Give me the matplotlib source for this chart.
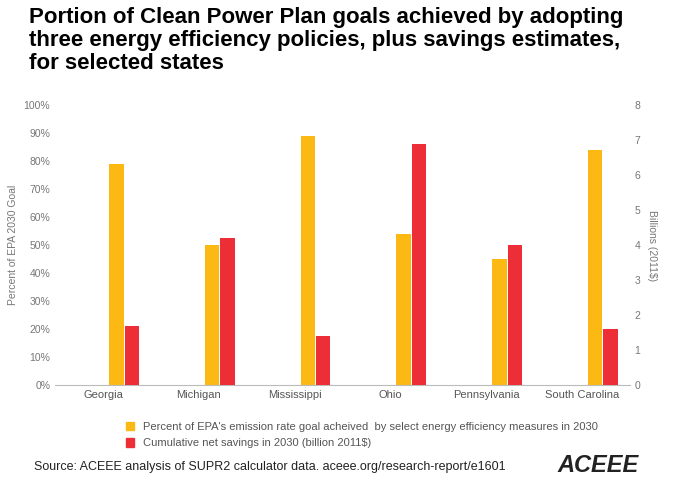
import matplotlib.pyplot as plt
import numpy as np
from matplotlib.patches import Patch

plt.rcParams['font.family'] = ['Liberation Sans', 'DejaVu Sans']

states = ["Georgia", "Michigan", "Mississippi", "Ohio", "Pennsylvania", "South Carolina"]
goal_pct = [79, 50, 89, 54, 45, 84]
savings_bn = [1.68, 4.2, 1.4, 6.9, 4.0, 1.62]

orange = "#FDB913"
red = "#EE2E36"
gray = "#777777"

fig = plt.figure(figsize=(6.8, 4.87), dpi=100)
ax = fig.add_axes([0.081, 0.209, 0.845, 0.575])
ax2 = ax.twinx()

x = np.arange(len(states))
ax.bar(x + 0.14, goal_pct, width=0.15, color=orange)
ax2.bar(x + 0.30, savings_bn, width=0.15, color=red)

ax.set_xlim(-0.5, 5.5)
ax.set_ylim(0, 100)
ax2.set_ylim(0, 8)
ax.set_yticks(range(0, 101, 10))
ax.set_yticklabels([f"{v}%" for v in range(0, 101, 10)])
ax2.set_yticks(range(0, 9))
ax.set_xticks(x)
ax.set_xticklabels(states)

for a in (ax, ax2):
    for s in a.spines.values():
        s.set_visible(False)
    a.tick_params(length=0, labelsize=7.5, colors=gray)
ax.spines["bottom"].set_visible(True)
ax.spines["bottom"].set_color("#BBBBBB")
ax.tick_params(axis="x", labelsize=8, colors="#555555")

ax.set_ylabel("Percent of EPA 2030 Goal", fontsize=7.5, color=gray)
ax2.set_ylabel("Billions (2011$)", fontsize=7.5, color=gray, rotation=270, labelpad=12)

fig.text(0.042, 0.985, "Portion of Clean Power Plan goals achieved by adopting\n"
         "three energy efficiency policies, plus savings estimates,\nfor selected states",
         fontsize=16, fontweight="bold", va="top", ha="left", linespacing=1.1)

handles = [Patch(color=orange), Patch(color=red)]
labels = ["Percent of EPA's emission rate goal acheived  by select energy efficiency measures in 2030",
          "Cumulative net savings in 2030 (billion 2011$)"]
fig.legend(handles, labels, loc="upper left", bbox_to_anchor=(0.17, 0.155), frameon=False,
           fontsize=8, handlelength=0.8, handleheight=0.8, labelcolor="#555555", labelspacing=0.6)

fig.text(0.05, 0.035, "Source: ACEEE analysis of SUPR2 calculator data. aceee.org/research-report/e1601",
         fontsize=9, color="#222222")
fig.text(0.88, 0.03, "ACEEE", fontsize=17, fontweight="bold", style="italic", ha="center", color="#222222")

fig.savefig("out.png", dpi=100)
